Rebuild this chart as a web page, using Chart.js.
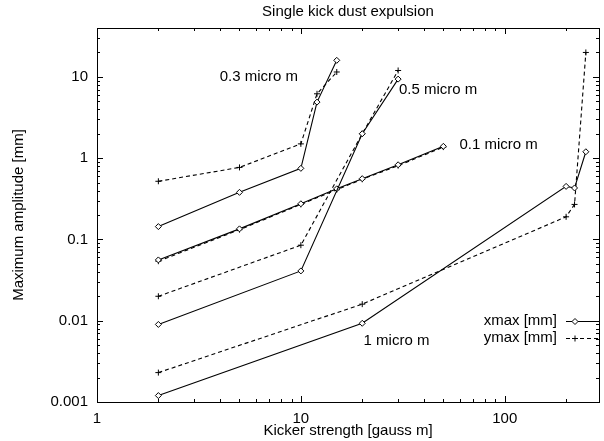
<!DOCTYPE html>
<html>
<head>
<meta charset="utf-8">
<script src="https://cdn.jsdelivr.net/npm/chart.js@4.4.1/dist/chart.umd.min.js"></script>
<style>
  html, body { margin: 0; padding: 0; background: #fff; }
  #wrap { width: 604px; height: 441px; }
</style>
</head>
<body>
<div id="wrap"><canvas id="dustChart" width="604" height="441"></canvas></div>
<script>
// kicker strength [gauss m] and max amplitude [mm], one set per dust size
var kick01 = [2, 5, 10, 15, 20, 30, 50];
var xmax01 = [0.056, 0.135, 0.275, 0.42, 0.56, 0.83, 1.4];
var ymax01 = [0.054, 0.132, 0.27, 0.41, 0.55, 0.81, 1.37];

var kick03 = [2, 5, 10, 12, 15];
var xmax03 = [0.144, 0.38, 0.75, 4.9, 16];
var ymax03 = [0.52, 0.77, 1.5, 6.2, 11.5];

var kick05 = [2, 10, 20, 30];
var xmax05 = [0.009, 0.041, 2.0, 9.4];
var ymax05 = [0.020, 0.085, 2.0, 12];

var kick1 = [2, 20, 200, 220, 250];
var xmax1 = [0.0012, 0.0093, 0.45, 0.43, 1.2];
var ymax1 = [0.0023, 0.016, 0.19, 0.27, 20];

var xTickValues = [1, 10, 100];
var yTickValues = [0.001, 0.01, 0.1, 1, 10];
var legendNames = ['xmax [mm]', 'ymax [mm]'];

var FONT = '"Liberation Sans", Arial, Helvetica, sans-serif';

function pairs(xs, ys) {
  return xs.map(function(x, i) { return { x: x, y: ys[i] }; });
}

function xSet(xs, ys) {
  return {
    data: pairs(xs, ys),
    borderColor: '#000', borderWidth: 1.1,
    pointStyle: 'rectRot', pointRadius: 3,
    pointBackgroundColor: '#fff', pointBorderColor: '#000', pointBorderWidth: 1,
    tension: 0, fill: false
  };
}
function ySet(xs, ys) {
  return {
    data: pairs(xs, ys),
    borderColor: '#000', borderWidth: 1.1, borderDash: [4, 3],
    pointStyle: 'cross', pointRadius: 3,
    pointBorderColor: '#000', pointBorderWidth: 1,
    tension: 0, fill: false
  };
}

// gnuplot style frame: box, inward ticks on all sides, curve labels and key
var gnuplotLook = {
  id: 'gnuplotLook',
  afterDraw: function(chart) {
    var ctx = chart.ctx, ca = chart.chartArea;
    var xs = chart.scales.x, ys = chart.scales.y;
    ctx.save();
    ctx.strokeStyle = '#000';
    ctx.lineWidth = 1;
    ctx.setLineDash([]);
    ctx.strokeRect(Math.round(ca.left) + 0.5, Math.round(ca.top) + 0.5,
      Math.round(ca.right - ca.left), Math.round(ca.bottom - ca.top));

    function logTicks(min, max) {
      var out = [];
      for (var e = Math.floor(Math.log10(min)); e <= Math.ceil(Math.log10(max)); e++) {
        for (var m = 1; m <= 9; m++) {
          var v = m * Math.pow(10, e);
          if (v >= min * 0.999 && v <= max * 1.001) out.push({ v: v, major: m === 1 });
        }
      }
      return out;
    }
    ctx.beginPath();
    logTicks(xs.min, xs.max).forEach(function(t) {
      var p = Math.round(xs.getPixelForValue(t.v)) + 0.5;
      var len = t.major ? 6 : 3;
      ctx.moveTo(p, ca.bottom); ctx.lineTo(p, ca.bottom - len);
      ctx.moveTo(p, ca.top); ctx.lineTo(p, ca.top + len);
    });
    logTicks(ys.min, ys.max).forEach(function(t) {
      var p = Math.round(ys.getPixelForValue(t.v)) + 0.5;
      var len = t.major ? 6 : 3;
      ctx.moveTo(ca.left, p); ctx.lineTo(ca.left + len, p);
      ctx.moveTo(ca.right, p); ctx.lineTo(ca.right - len, p);
    });
    ctx.stroke();

    ctx.fillStyle = '#000';
    ctx.font = '15px ' + FONT;
    ctx.textBaseline = 'middle';
    ctx.textAlign = 'left';
    ctx.fillText('0.3 micro m', xs.getPixelForValue(4), ys.getPixelForValue(10));
    ctx.fillText('0.5 micro m', xs.getPixelForValue(30.3), ys.getPixelForValue(6.85));
    ctx.fillText('0.1 micro m', xs.getPixelForValue(60), ys.getPixelForValue(1.47));
    ctx.fillText('1 micro m', xs.getPixelForValue(20.3), ys.getPixelForValue(0.0057));

    // key
    ctx.textAlign = 'right';
    var kx = ca.right - 42, ky = ca.top + 293;
    legendNames.forEach(function(name, i) {
      var y = ky + i * 16.6;
      ctx.fillText(name, kx, y);
      ctx.beginPath();
      ctx.setLineDash(i === 0 ? [] : [4, 3]);
      ctx.moveTo(ca.right - 33, Math.round(y) + 0.5);
      ctx.lineTo(ca.right, Math.round(y) + 0.5);
      ctx.stroke();
      ctx.setLineDash([]);
    });
    var mx = ca.right - 24, my0 = Math.round(ky) + 0.5, my1 = Math.round(ky + 16.6) + 0.5;
    ctx.beginPath();
    ctx.moveTo(mx, my0 - 3); ctx.lineTo(mx + 3, my0); ctx.lineTo(mx, my0 + 3); ctx.lineTo(mx - 3, my0); ctx.closePath();
    ctx.fillStyle = '#fff'; ctx.fill(); ctx.stroke();
    ctx.beginPath();
    ctx.moveTo(mx - 3, my1); ctx.lineTo(mx + 3, my1);
    ctx.moveTo(mx, my1 - 3); ctx.lineTo(mx, my1 + 3);
    ctx.stroke();
    ctx.restore();
  }
};

var ctx = document.getElementById('dustChart').getContext('2d');
var chart = new Chart(ctx, {
  type: 'line',
  data: {
    datasets: [
      xSet(kick03, xmax03), ySet(kick03, ymax03),
      xSet(kick05, xmax05), ySet(kick05, ymax05),
      xSet(kick01, xmax01), ySet(kick01, ymax01),
      xSet(kick1, xmax1), ySet(kick1, ymax1)
    ]
  },
  options: {
    responsive: false,
    animation: false,
    devicePixelRatio: 1,
    layout: { padding: { left: 0, right: 4, top: 0, bottom: 0 } },
    font: { family: FONT, size: 15 },
    plugins: {
      legend: { display: false },
      tooltip: { enabled: false },
      title: {
        display: true,
        text: 'Single kick dust expulsion',
        color: '#000',
        fullSize: false,
        font: { family: FONT, size: 15, weight: 'normal' },
        padding: { top: 3, bottom: 7 }
      }
    },
    scales: {
      x: {
        type: 'logarithmic',
        min: 1, max: 290,
        afterBuildTicks: function(s) { s.ticks = xTickValues.map(function(v) { return { value: v }; }); },
        afterFit: function(s) { s.height = 39; },
        ticks: {
          color: '#000', padding: 8, maxRotation: 0, autoSkip: false,
          font: { family: FONT, size: 15 },
          callback: function(v) { return String(v); }
        },
        grid: { display: false, drawTicks: false },
        border: { display: false },
        title: {
          display: true, text: 'Kicker strength [gauss m]', color: '#000',
          font: { family: FONT, size: 15 }, padding: { top: 0, bottom: 1 }
        }
      },
      y: {
        type: 'logarithmic',
        min: 0.001, max: 40,
        afterBuildTicks: function(s) { s.ticks = yTickValues.map(function(v) { return { value: v }; }); },
        afterFit: function(s) { s.width = 97; },
        ticks: {
          color: '#000', padding: 9, autoSkip: false,
          font: { family: FONT, size: 15 },
          callback: function(v) { return String(v); }
        },
        grid: { display: false, drawTicks: false },
        border: { display: false },
        title: {
          display: true, text: 'Maximum amplitude [mm]', color: '#000',
          font: { family: FONT, size: 15 }, padding: { top: 10, bottom: 0 }
        }
      }
    }
  },
  plugins: [gnuplotLook]
});
</script>
</body>
</html>
